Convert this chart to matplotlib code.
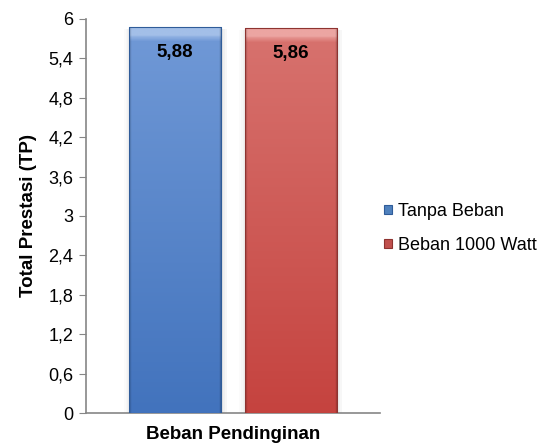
import numpy as np
import matplotlib
matplotlib.use('Agg')
from matplotlib import pyplot as plt
from matplotlib.colors import LinearSegmentedColormap

# Data
kategori = ['Beban Pendinginan']
seri = ['Tanpa Beban', 'Beban 1000 Watt']
nilai = [5.88, 5.86]
label_nilai = ['5,88', '5,86']
warna = ['#4F81BD', '#C0504D']
warna_atas = ['#A3BFE8', '#ECA5A2']
warna_terang = ['#6F98D6', '#D7716D']
warna_gelap = ['#4273BD', '#C5433F']
warna_tepi = ['#2F5C99', '#8E3330']
y_ticks = [0, 0.6, 1.2, 1.8, 2.4, 3, 3.6, 4.2, 4.8, 5.4, 6]
y_ticklabels = ['0', '0,6', '1,2', '1,8', '2,4', '3', '3,6', '4,2', '4,8', '5,4', '6']

plt.rcParams['font.family'] = ['Liberation Sans', 'DejaVu Sans']

fig = plt.figure(figsize=(5.5, 4.48), dpi=100)
ax = fig.add_axes([0.156, 0.078, 0.535, 0.880])

lebar = 0.313
posisi = [-0.196, 0.196]
bars = ax.bar(posisi, nilai, width=lebar, color=warna, edgecolor='none',
              zorder=2)

# efek gradasi pada tiap batang
for b, ca, c1, c2, ct in zip(bars, warna_atas, warna_terang, warna_gelap, warna_tepi):
    x0, w, h = b.get_x(), b.get_width(), b.get_height()
    cmap = LinearSegmentedColormap.from_list(
        'g', [(0, ca), (0.02, ca), (0.035, c1), (1, c2)])
    grad = np.linspace(0, 1, 400).reshape(-1, 1)
    im = ax.imshow(grad, cmap=cmap, aspect='auto', extent=[x0, x0 + w, 0, h],
                   origin='upper', zorder=3, vmin=0, vmax=1,
                   interpolation='bilinear')
    # pinggir kiri-kanan lebih gelap (lapisan hitam transparan)
    side = np.concatenate([np.linspace(0.25, 0, 8), np.zeros(240),
                           np.linspace(0, 0.35, 8)])
    rgba = np.zeros((1, side.size, 4))
    rgba[..., 3] = side
    im2 = ax.imshow(rgba, aspect='auto', extent=[x0, x0 + w, 0, h],
                    zorder=4, interpolation='bilinear')
    im.set_clip_path(b)
    im2.set_clip_path(b)
    # bayangan lembut di kiri-kanan batang
    for i, a in enumerate([0.10, 0.06, 0.03]):
        ax.bar(x0 + w + i * 0.006, h - 0.03, width=0.006, align='edge',
               color='#000000', alpha=a, zorder=1, edgecolor='none')
        ax.bar(x0 - (i + 1) * 0.006, h - 0.03, width=0.006, align='edge',
               color='#000000', alpha=a * 0.5, zorder=1, edgecolor='none')
    ax.plot([x0, x0 + w, x0 + w, x0, x0], [0, 0, h, h, 0], color=ct,
            lw=0.8, zorder=5)

for p, v, t in zip(posisi, nilai, label_nilai):
    ax.text(p, v - 0.26, t, ha='center', va='top', fontsize=13.5,
            fontweight='bold', zorder=6)

ax.set_xlim(-0.5, 0.5)
ax.set_ylim(0, 6)
ax.set_yticks(y_ticks)
ax.set_yticklabels(y_ticklabels, fontsize=13)
ax.set_xticks([0])
ax.set_xticklabels(kategori, fontsize=13.5, fontweight='bold')
ax.tick_params(axis='x', length=0, pad=9)
ax.tick_params(axis='y', length=5, color='#868686', pad=4)
ax.set_ylabel('Total Prestasi (TP)', fontsize=13.5, fontweight='bold', labelpad=8)
for s in ['top', 'right']:
    ax.spines[s].set_visible(False)
for s in ['left', 'bottom']:
    ax.spines[s].set_color('#868686')
    ax.spines[s].set_linewidth(1.2)

# legenda
handles = [plt.Rectangle((0, 0), 1, 1, facecolor=c, edgecolor=g, lw=0.8)
           for c, g in zip(warna, warna_tepi)]
fig.legend(handles, seri, loc='center left', bbox_to_anchor=(0.685, 0.49),
           frameon=False, fontsize=13, handlelength=0.45, handleheight=0.45,
           handletextpad=0.3, labelspacing=0.95, borderaxespad=0)

fig.savefig('out.png', dpi=100)
